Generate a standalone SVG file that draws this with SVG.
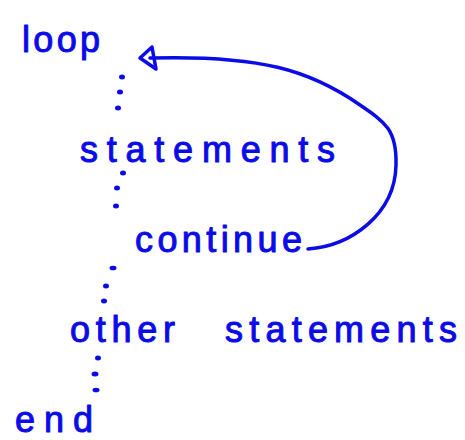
<svg xmlns="http://www.w3.org/2000/svg" width="465" height="440" viewBox="0 0 465 440">
<style>
.t{font-family:"Liberation Sans","DejaVu Sans",sans-serif;font-size:36px;fill:#0b0be8;stroke:#0b0be8;stroke-width:1px;stroke-linejoin:round}
.d{fill:#0b0be8}
.c{fill:none;stroke:#0b0be8;stroke-width:3.5;stroke-linecap:round;stroke-linejoin:round}
</style>
<rect width="465" height="440" fill="#fff"/>
<g id="loop"><text class="t" x="22" y="52" textLength="78" lengthAdjust="spacing">loop</text></g>
<g id="statements"><text class="t" x="80" y="162" textLength="255" lengthAdjust="spacing">statements</text></g>
<g id="continue"><text class="t" x="135" y="252" textLength="167" lengthAdjust="spacing">continue</text></g>
<g id="other"><text class="t" x="70" y="342" textLength="105" lengthAdjust="spacing">other</text><text class="t" x="225" y="342" textLength="232" lengthAdjust="spacing">statements</text></g>
<g id="end"><text class="t" x="15" y="432" textLength="78" lengthAdjust="spacing">end</text></g>
<g id="connectors">
<g id="dots">
<ellipse class="d" cx="122" cy="77" rx="3" ry="2.5"/>
<ellipse class="d" cx="120" cy="92" rx="3" ry="2.5"/>
<ellipse class="d" cx="118" cy="108" rx="3" ry="2.5"/>
<ellipse class="d" cx="123" cy="173" rx="3" ry="2.5"/>
<ellipse class="d" cx="117" cy="188" rx="3" ry="2.5"/>
<ellipse class="d" cx="116" cy="206" rx="3" ry="2.5"/>
<ellipse class="d" cx="113" cy="268" rx="3.5" ry="2.3"/>
<ellipse class="d" cx="106" cy="286" rx="3" ry="2.5"/>
<ellipse class="d" cx="104" cy="301" rx="3" ry="2.5"/>
<ellipse class="d" cx="98" cy="358" rx="3" ry="2.5"/>
<ellipse class="d" cx="95" cy="374" rx="3.5" ry="2.5"/>
<ellipse class="d" cx="96" cy="390" rx="3.5" ry="2.3"/>
</g>
<path class="c" d="M308,249 C350,246 395,215 396,165 C397,130 385,122 360,105 C310,70 260,55 150,58"/>
<path class="c" d="M152,47 L140,58 L156,69 Z"/>
</g>
</svg>
